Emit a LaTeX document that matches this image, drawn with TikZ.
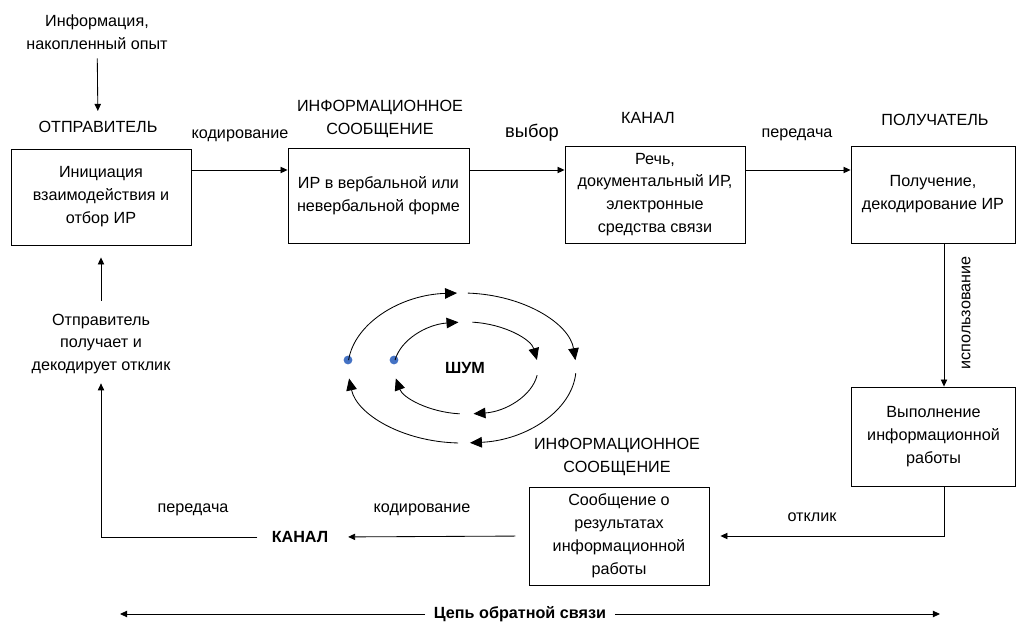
\documentclass[tikz,border=0pt]{standalone}
\usepackage{fontspec}
\setmainfont{Liberation Sans}
\usetikzlibrary{arrows.meta, calc}
\definecolor{dotblue}{RGB}{68,114,196}

\begin{document}
\begin{tikzpicture}[x=0.025cm, y=0.025cm, font=\fontsize{11.5}{16.3}\selectfont,
        box/.style={draw, line width=0.6pt, minimum width=4.5cm, minimum height=2.425cm, align=center, inner sep=2pt},
        lbl/.style={align=center, inner sep=2pt},
        boldlbl/.style={lbl, font=\fontsize{11.5}{16.3}\selectfont\bfseries},
        arr/.style={-{Triangle[length=5pt,width=4.5pt]}, line width=0.6pt},
        noise/.style={-{Triangle[length=8.5pt,width=7.5pt]}, line width=0.6pt}]
        \useasboundingbox (0,0) rectangle (1021,-624);

        % boxes
        \node (send) [box, minimum height=2.4cm] at (101,-197) {Инициация\\взаимодействия и\\отбор ИР};
        \node (msg) [box, minimum width=4.525cm, minimum height=2.375cm] at (378.5,-195.5) {ИР в вербальной или\\невербальной форме};
        \node (chan) [box] at (655,-194.5) {Речь,\\документальный ИР,\\электронные\\средства связи};
        \node (recv) [box, minimum width=4.1cm] at (933,-194.5) {Получение,\\декодирование ИР};
        \node (work) [box, minimum width=4.1cm, minimum height=2.475cm] at (933.5,-436.5) {Выполнение\\информационной\\работы};
        \node (resp) [box, minimum height=2.45cm] at (619,-536) {Сообщение о\\результатах\\информационной\\работы};

        % labels
        \node (srcinfo) [lbl] at (97,-32) {Информация,\\накопленный опыт};
        \node (sndlbl) [lbl] at (98,-127) {ОТПРАВИТЕЛЬ};
        \node (msglbl) [lbl] at (380,-119) {ИНФОРМАЦИОННОЕ\\СООБЩЕНИЕ};
        \node (chanlbl) [lbl] at (648,-118) {КАНАЛ};
        \node (recvlbl) [lbl] at (935,-120) {ПОЛУЧАТЕЛЬ};
        \node (codelbl) [lbl] at (240,-136) {кодирование};
        \node (choicelbl) [lbl, font=\fontsize{13}{15}\selectfont] at (532,-133) {выбор};
        \node (sendlbl) [lbl] at (797,-135) {передача};
        \node (uselbl) [lbl, rotate=90] at (966,-313) {использование};
        \node (resplbl) [lbl] at (812,-517) {отклик};
        \node (msglbl2) [lbl] at (617,-457) {ИНФОРМАЦИОННОЕ\\СООБЩЕНИЕ};
        \node (codelbl2) [lbl] at (422,-510) {кодирование};
        \node (chan2) [boldlbl] at (300,-537) {КАНАЛ};
        \node (sendlbl2) [lbl] at (193,-510) {передача};
        \node (fb) [lbl] at (101,-344) {Отправитель\\получает и\\декодирует отклик};
        \node (noiselbl) [boldlbl] at (465,-368) {ШУМ};
        \node (chain) [boldlbl, inner xsep=6pt] at (520,-614) {Цепь обратной связи};

        \coordinate (toprow) at (0,-170);
        \coordinate (usex) at (944,0);
        \coordinate (chainl) at (120,-614);
        \coordinate (chainr) at (940,-614);

        % upper chain
        \draw[arr, shorten <=0.15cm, shorten >=0.18cm] (srcinfo) -- (sndlbl);
        \draw[arr] (send.east |- toprow) -- (msg.west |- toprow);
        \draw[arr] (msg.east |- toprow) -- (chan.west |- toprow);
        \draw[arr] (chan.east |- toprow) -- (recv.west |- toprow);
        \draw[arr] (recv.south -| usex) -- (work.north -| usex);

        % feedback
        \draw[arr] (work.south -| usex) |- ($(resp.east)+(11,0)$);
        \draw[arr, shorten <=0.33cm, shorten >=0.42cm] (resp.west) -- (chan2.east);
        \draw[arr, shorten <=0.28cm, shorten >=0.15cm] (chan2.west) -| (fb.south);
        \draw[arr, shorten <=0.25cm, shorten >=0.3cm] (fb.north) -- (send.south);
        \draw[arr] (chain.west) -- (chainl);
        \draw[arr] (chain.east) -- (chainr);

        % noise
        \coordinate (outer) at (462,-368);
        \coordinate (inner) at (466,-368);
        \fill[dotblue] (348,-360) circle[radius=0.11cm];
        \fill[dotblue] (394,-360) circle[radius=0.11cm];
        \draw[noise] ($(outer)+(174:2.85cm and 1.875cm)$) arc[start angle=174, end angle=92.5, x radius=2.85cm, y radius=1.875cm];
        \draw[noise] ($(outer)+(87:2.85cm and 1.875cm)$) arc[start angle=87, end angle=6, x radius=2.85cm, y radius=1.875cm];
        \draw[noise] ($(outer)+(-4:2.85cm and 1.875cm)$) arc[start angle=-4, end angle=-86, x radius=2.85cm, y radius=1.875cm];
        \draw[noise] ($(outer)+(-92:2.85cm and 1.875cm)$) arc[start angle=-92, end angle=-172, x radius=2.85cm, y radius=1.875cm];
        \draw[noise] ($(inner)+(170:1.8cm and 1.15cm)$) arc[start angle=170, end angle=96, x radius=1.8cm, y radius=1.15cm];
        \draw[noise] ($(inner)+(85:1.8cm and 1.15cm)$) arc[start angle=85, end angle=10, x radius=1.8cm, y radius=1.15cm];
        \draw[noise] ($(inner)+(-9:1.8cm and 1.15cm)$) arc[start angle=-9, end angle=-84, x radius=1.8cm, y radius=1.15cm];
        \draw[noise] ($(inner)+(-95:1.8cm and 1.15cm)$) arc[start angle=-95, end angle=-167, x radius=1.8cm, y radius=1.15cm];

    \end{tikzpicture}
\end{document}
